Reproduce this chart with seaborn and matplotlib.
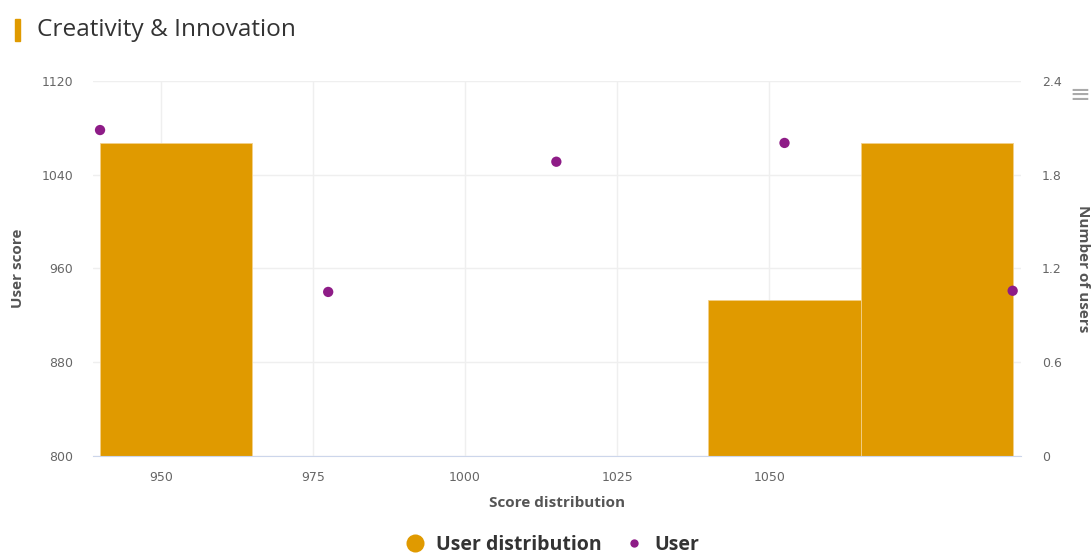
import matplotlib
matplotlib.use("Agg")
import matplotlib.pyplot as plt
import seaborn as sns
from matplotlib.lines import Line2D
from matplotlib.patches import Rectangle

# Data
user_scores = [1078, 940, 1051, 1067, 941]          # left axis (User score)
user_x = [940, 977.5, 1015, 1052.5, 1090]           # position of each user dot
bin_edges = [940, 965, 990, 1015, 1040, 1065, 1090]  # histogram bins
x_ticks = [950, 975, 1000, 1025, 1050]
score_ticks = [800, 880, 960, 1040, 1120]
count_ticks = [0, 0.6, 1.2, 1.8, 2.4]
count_tick_labels = ["0", "0.6", "1.2", "1.8", "2.4"]

bar_color = "#E09A00"
dot_color = "#8E1C87"
tick_color = "#666666"
label_color = "#555555"

sns.set_style("white")
plt.rcParams["font.family"] = ["Open Sans", "DejaVu Sans"]

fig = plt.figure(figsize=(10.91, 5.57), dpi=100)
ax = fig.add_axes([0.085, 0.181, 0.851, 0.674])
ax2 = ax.twinx()

# bars (counts) on the primary axes so grid sits below them
sns.histplot(x=user_scores, bins=bin_edges, ax=ax, color=bar_color, alpha=1,
             edgecolor="#f3d08a", linewidth=0.6)
ax.set_ylim(0, 2.4)
ax.set_yticks(count_ticks)
ax.set_yticklabels(count_tick_labels)
ax.yaxis.tick_right()
ax.yaxis.set_label_position("right")
ax.set_ylabel("Number of users", rotation=270, labelpad=20, fontsize=11,
              fontweight="bold", color=label_color)

# user dots on the twin axes
sns.scatterplot(x=user_x, y=user_scores, ax=ax2, color=dot_color, s=55,
                edgecolor="none", zorder=3, clip_on=False)
ax2.set_ylim(800, 1120)
ax2.set_yticks(score_ticks)
ax2.yaxis.tick_left()
ax2.yaxis.set_label_position("left")
ax2.set_ylabel("User score", fontsize=11, fontweight="bold", color=label_color,
               labelpad=12)

ax.set_xlim(938.8, 1091.4)
ax.set_xticks(x_ticks)
ax.set_xlabel("Score distribution", fontsize=11, fontweight="bold",
              color=label_color, labelpad=8)

ax.grid(True, color="#efefef", linewidth=1)
ax.set_axisbelow(True)
ax2.grid(False)

tick_font = {"family": "DejaVu Sans", "size": 9}
ax.tick_params(axis="x", length=0, pad=11, labelcolor=tick_color)
ax.tick_params(axis="y", length=0, pad=15, labelcolor=tick_color)
ax2.tick_params(axis="y", length=0, pad=14, labelcolor=tick_color)
for lab in ax.get_xticklabels() + ax.get_yticklabels() + ax2.get_yticklabels():
    lab.set_fontfamily(tick_font["family"])
    lab.set_fontsize(tick_font["size"])

for name, sp in ax.spines.items():
    sp.set_visible(name == "bottom")
ax.spines["bottom"].set_color("#ccd6eb")
for sp in ax2.spines.values():
    sp.set_visible(False)

# title with accent bar
fig.patches.append(Rectangle((0.0137, 0.926), 0.0046, 0.0395,
                             transform=fig.transFigure, color=bar_color))
fig.text(0.034, 0.946, "Creativity & Innovation", fontsize=17.6,
         color="#333333", va="center", ha="left")
fig.text(0.99, 0.828, "\u2261", fontsize=18, color="#aaaaaa",
         va="center", ha="center")

handles = [
    Line2D([], [], marker="o", linestyle="none", markersize=13,
           markerfacecolor=bar_color, markeredgecolor="none"),
    Line2D([], [], marker="o", linestyle="none", markersize=6,
           markerfacecolor=dot_color, markeredgecolor="none"),
]
fig.legend(handles, ["User distribution", "User"], loc="lower center",
           bbox_to_anchor=(0.502, -0.028), ncol=2, frameon=False,
           prop={"size": 14, "weight": "bold"}, labelcolor="#333333",
           handletextpad=0.05, columnspacing=0.7)

fig.savefig("out.png", dpi=100)
